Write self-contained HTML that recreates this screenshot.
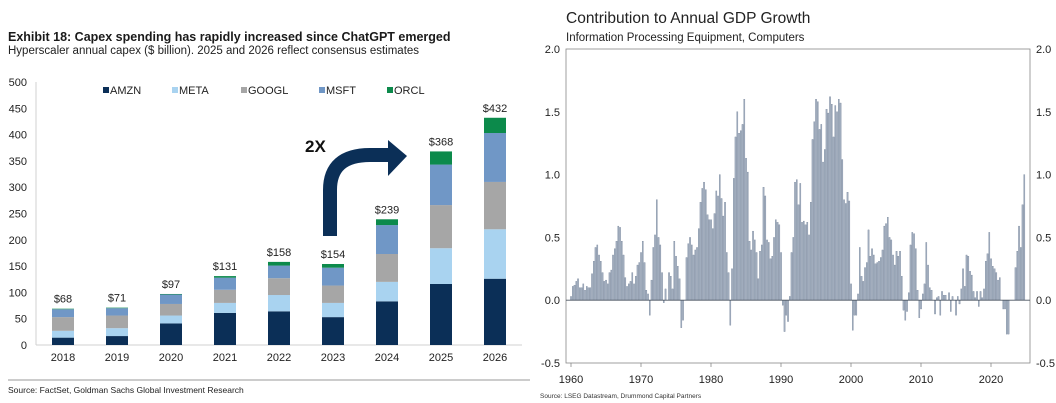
<!DOCTYPE html>
<html><head><meta charset="utf-8"><style>
html,body{margin:0;padding:0;background:#fff;}
svg{display:block;font-family:"Liberation Sans",Arial,sans-serif;}
</style></head><body>
<svg id="root" width="1056" height="403" viewBox="0 0 1056 403">
<g id="left">
<text x="8" y="41" font-size="12.5" font-weight="bold" fill="#1a1a1a">Exhibit 18: Capex spending has rapidly increased since ChatGPT emerged</text>
<text x="8" y="54" font-size="11.5" fill="#222">Hyperscaler annual capex ($ billion). 2025 and 2026 reflect consensus estimates</text>
<line x1="8" y1="380" x2="530" y2="380" stroke="#999" stroke-width="1"/>
<text x="8" y="393" font-size="8.5" fill="#222">Source: FactSet, Goldman Sachs Global Investment Research</text>
<path d="M330 236 L330 190 Q330 155 370 155 L392 155" fill="none" stroke="#0b2f57" stroke-width="14"/>
<polygon points="388,140 407,156 388,176" fill="#0b2f57"/>
<text x="305" y="152" font-size="17" font-weight="bold" fill="#111">2X</text>
</g>
<g id="right">
<text x="566" y="23" font-size="15.5" fill="#222">Contribution to Annual GDP Growth</text>
<text x="566" y="41" font-size="11.5" fill="#222">Information Processing Equipment, Computers</text>
<text x="540" y="398" font-size="6.5" fill="#333">Source: LSEG Datastream, Drummond Capital Partners</text>
</g>
</svg>
<script>
const NS='http://www.w3.org/2000/svg';
// ---------- Left chart data ----------
const years=['2018','2019','2020','2021','2022','2023','2024','2025','2026'];
const seriesNames=['AMZN','META','GOOGL','MSFT','ORCL'];
const amzn=[14,17,41,61,64,53,83,116,126];
const meta=[13,15,15,19,31,27,37,68,94];
const googl=[26,24,22,25,32,33,53,82,90];
const msft=[15,14,18,23,24,34,55,77,93];
const orcl=[1,1,1,3,7,7,11,25,29];
const totalLabels=['$68','$71','$97','$131','$158','$154','$239','$368','$432'];
const yTicksLeft=[0,50,100,150,200,250,300,350,400,450,500];
// ---------- Right chart data (quarterly, from 1960 Q1) ----------
const gdpValues=[
0.03,0.11,0.12,0.15, 0.17,0.10,0.10,0.13, 0.08,0.11,0.10,0.10, 0.21,0.31,0.42,0.44,
0.36,0.31,0.22,0.15, 0.16,0.13,0.22,0.24, 0.36,0.41,0.47,0.59, 0.58,0.47,0.36,0.18,
0.11,0.13,0.15,0.22, 0.13,0.19,0.28,0.30, 0.38,0.47,0.30,0.08, 0.05,-0.12,0.16,0.42,
0.52,0.80,0.50,0.44, 0.22,-0.02,0.09,0.00, 0.22,0.19,0.09,0.47, 0.35,0.27,0.17,-0.22,
-0.16,0.00,0.34,0.45, 0.50,0.44,0.36,0.40, 0.42,0.57,0.78,0.89, 0.94,0.88,0.68,0.64,
0.64,0.57,0.69,0.87, 0.83,1.00,0.81,0.67, 0.78,0.38,0.22,-0.20, 0.25,0.97,1.30,1.50,
1.33,1.35,1.40,1.60, 1.13,1.02,0.47,0.40, 0.55,0.48,0.38,0.17, 0.39,0.44,0.90,0.83,
0.48,0.46,0.33,0.35, 0.50,0.64,0.62,0.60, 0.38,-0.04,-0.25,-0.12, -0.17,0.03,0.38,0.50,
0.94,0.96,0.76,0.93, 0.62,0.63,0.60,0.62, 0.52,0.78,1.28,1.42, 1.60,1.58,1.36,1.40,
1.10,1.20,1.52,1.49, 1.62,1.56,1.30,1.55, 1.50,1.60,1.57,1.12, 0.80,0.77,0.86,0.79,
0.13,-0.24,-0.12,-0.12, 0.05,0.42,0.19,0.15, 0.26,0.30,0.56,0.35, 0.41,0.36,0.29,0.30,
0.31,0.34,0.40,0.59, 0.61,0.66,0.50,0.48, 0.36,0.28,0.39,0.35, 0.39,0.19,-0.08,-0.16,
-0.09,0.06,0.44,0.54, 0.53,0.41,0.08,-0.14, -0.07,0.05,0.13,0.46, 0.28,0.10,0.08,0.00,
-0.11,0.02,0.03,-0.12, 0.07,0.04,0.04,0.00, 0.06,-0.09,0.03,0.00, -0.12,0.03,-0.03,0.09,
0.25,0.11,0.36,0.35, 0.23,0.20,0.07,0.02, 0.07,-0.05,0.07,0.02, 0.09,0.31,0.37,0.54,
0.33,0.27,0.25,0.22, 0.16,0.18,0.00,-0.07, -0.07,-0.27,-0.27,0.00, 0.00,0.00,0.26,0.39,
0.59,0.42,0.76,1.00
];
const startYear=1960;
const xTickYears=[1960,1970,1980,1990,2000,2010,2020];
const yTicksRight=[-0.5,0.0,0.5,1.0,1.5,2.0];

function mk(tag,attrs,parent,txt){const e=document.createElementNS(NS,tag);for(const k in attrs)e.setAttribute(k,attrs[k]);if(txt!==undefined)e.textContent=txt;parent.appendChild(e);return e;}

// ---------- Left chart ----------
const L=document.getElementById('left');
const lx0=36,lx1=522,ly0=345,ly1=82;
const yL=v=>ly0-(v/500)*(ly0-ly1);
const xL=i=>63+i*54;
const colors=['#0b2f57','#a9d3f0','#a6a6a6','#7097c6','#0c8a4b'];
const series=[amzn,meta,googl,msft,orcl];
yTicksLeft.forEach(t=>{
  const e=mk('text',{x:27,y:yL(t)+4,'font-size':11,'text-anchor':'end',fill:'#222'},L,String(t));
  
  
});
const ax=mk('line',{x1:lx0,y1:ly1,x2:lx0,y2:ly0,stroke:'#d0d0d0','stroke-width':1},L);


const bx=mk('line',{x1:lx0,y1:ly0,x2:lx1,y2:ly0,stroke:'#d0d0d0','stroke-width':1},L);


years.forEach((yr,i)=>{
  let acc=0;
  series.forEach((s,k)=>{
    const v=s[i];
    const r=mk('rect',{x:xL(i)-11,y:yL(acc+v),width:22,height:Math.max(0,yL(acc)-yL(acc+v)),fill:colors[k]},L);
    
    
    acc+=v;
  });
  const tl=mk('text',{x:xL(i),y:yL(acc)-6,'font-size':11,'text-anchor':'middle',fill:'#222'},L,totalLabels[i]);
  
  
  const xl=mk('text',{x:xL(i),y:361,'font-size':11,'text-anchor':'middle',fill:'#222'},L,yr);
  
  
});
const legX=[103,172,241,319,387];
seriesNames.forEach((n,k)=>{
  const g=mk('g',{},L);
  
  
  mk('rect',{x:legX[k],y:87,width:6,height:6,fill:colors[k]},g);
  mk('text',{x:legX[k]+7,y:94,'font-size':11,fill:'#222'},g,n);
});

// ---------- Right chart ----------
const R=document.getElementById('right');
const px0=566,px1=1030,py0=49,py1=363;
const yR=v=>py0+(2-v)/2.5*(py1-py0);
const xR=yr=>571+(yr-1960)*7;
const frame=mk('rect',{x:px0,y:py0,width:px1-px0,height:py1-py0,fill:'none',stroke:'#888','stroke-width':0.8},R);


yTicksRight.forEach(t=>{
  const lab=t.toFixed(1);
  const a=mk('text',{x:560,y:yR(t)+4,'font-size':11,'text-anchor':'end',fill:'#222'},R,lab);
  
  
  const b=mk('text',{x:1036,y:yR(t)+4,'font-size':11,fill:'#222'},R,lab);
  
  
});
gdpValues.forEach((v,i)=>{
  const yr=startYear+i/4;
  const y0=yR(0),y1=yR(v);
  const r=mk('rect',{x:xR(yr)-0.6,y:Math.min(y0,y1),width:1.25,height:Math.abs(y1-y0),fill:'#a3afbf',stroke:'#6f7e94','stroke-width':0.3},R);
  
  
});
const zl=mk('line',{x1:px0,y1:yR(0),x2:px1,y2:yR(0),stroke:'#4a5460','stroke-width':0.9},R);


xTickYears.forEach(yr=>{
  const t=mk('line',{x1:xR(yr),y1:py1,x2:xR(yr),y2:py1+4,stroke:'#888','stroke-width':0.8},R);
  
  
  const l=mk('text',{x:xR(yr),y:383,'font-size':11,'text-anchor':'middle',fill:'#222'},R,String(yr));
  
  
});
</script>
</body></html>
